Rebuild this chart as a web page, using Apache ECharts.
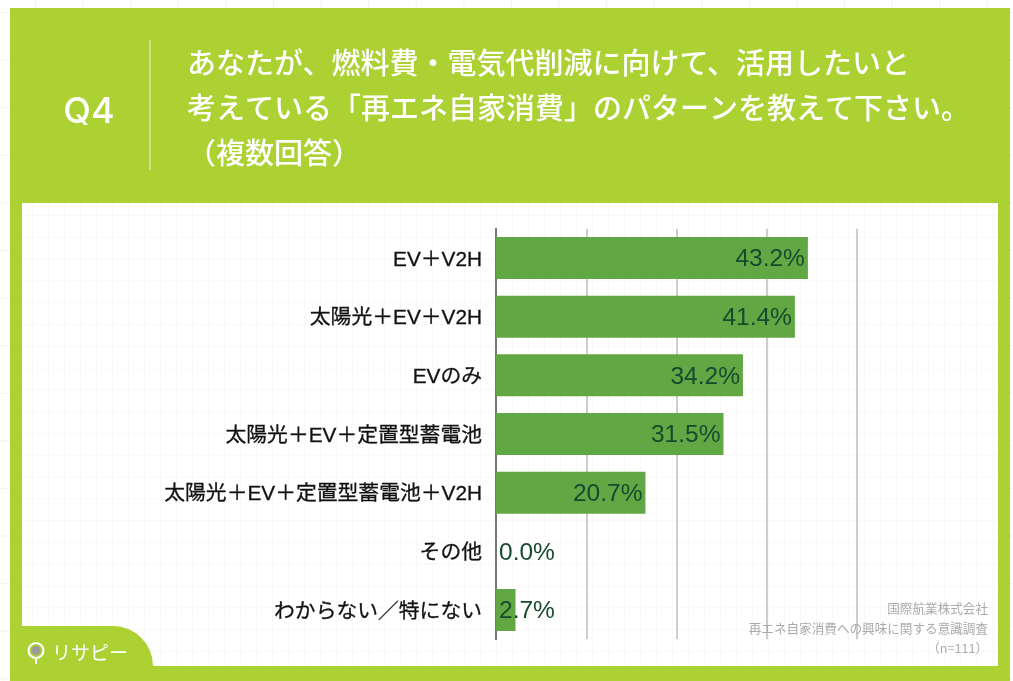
<!DOCTYPE html>
<html>
<head>
<meta charset="utf-8">
<style>
html,body{margin:0;padding:0;width:1013px;height:681px;overflow:hidden;background:#fff}
#outerlines{position:absolute;left:0;top:0;width:1013px;height:681px;
 background-image:linear-gradient(to right,#f3f3f3 1px,transparent 1px),linear-gradient(to bottom,#f3f3f3 1px,transparent 1px);
 background-size:47.6px 47.6px;background-position:35px 12px}
#green{position:absolute;left:10px;top:8px;width:1000px;height:673px;background:#abd132}
#panel{position:absolute;left:22px;top:203px;width:976px;height:463px;background-color:#fff;
 background-image:linear-gradient(to right,#f8f8f8 1px,transparent 1px),linear-gradient(to bottom,#f8f8f8 1px,transparent 1px);
 background-size:16px 21.8px;background-position:10px 12px}
#tab{position:absolute;left:10px;top:626px;width:143px;height:40px;background:#abd132;border-top-right-radius:40px}
#main{position:absolute;left:0;top:0;width:1013px;height:681px}
</style>
</head>
<body>
<div id="outerlines"></div>
<div id="green"></div>
<div id="panel"></div>
<div id="tab"></div>
<div id="main"></div>
<script src="https://cdn.jsdelivr.net/npm/echarts@6/dist/echarts.min.js"></script>
<script>
var categories=['EV＋V2H','太陽光＋EV＋V2H','EVのみ','太陽光＋EV＋定置型蓄電池','太陽光＋EV＋定置型蓄電池＋V2H','その他','わからない／特にない'];
var values=[43.2,41.4,34.2,31.5,20.7,0.0,2.7];
var xTicks=[0,12.5,25,37.5,50];
var jpFont='"Noto Sans CJK JP"';
var latinJp='"Liberation Sans","Noto Sans CJK JP"';

var barData=values.map(function(v){
	// 小さい値はラベルを軸の横に出す
	var small=v<5;
	return {
		value:v,
		label:{position:small?'insideLeft':'insideRight',distance:3}
	};
});

var chart=echarts.init(document.getElementById('main'));
chart.setOption({
	animation:false,
	backgroundColor:'transparent',
	title:[
		{text:'Q4',left:84,top:107,textAlign:'center',textVerticalAlign:'middle',
			textStyle:{color:'#fff',fontFamily:'Inter,"Liberation Sans"',fontSize:36,fontWeight:500}},
		{text:'あなたが、燃料費・電気代削減に向けて、活用したいと\n考えている「再エネ自家消費」のパターンを教えて下さい。\n（複数回答）',
			left:182,top:38,
			textStyle:{color:'#fff',fontFamily:latinJp,fontSize:29,fontWeight:500,lineHeight:45}},
		{text:'国際航業株式会社\n再エネ自家消費への興味に関する意識調査\n（n=111）',
			left:983,top:593,textAlign:'right',
			textStyle:{color:'#aaa',fontFamily:jpFont,fontSize:12.6,fontWeight:'normal',lineHeight:20,align:'right'}}
	],
	grid:{left:496,right:156,top:228.7,bottom:41.7,containLabel:false},
	xAxis:{
		type:'value',min:xTicks[0],max:xTicks[4],interval:xTicks[1],
		axisLine:{show:false},axisTick:{show:false},axisLabel:{show:false},
		splitLine:{show:true,lineStyle:{color:'#bdbdbd',width:1.5}}
	},
	yAxis:{
		type:'category',inverse:true,data:categories,
		axisLine:{show:true,lineStyle:{color:'#777',width:2}},
		axisTick:{show:false},
		// verticalAlign+lineHeightで文字を少し下げる
		axisLabel:{margin:14,color:'#111',fontFamily:latinJp,fontSize:20.8,fontWeight:'normal',
			textBorderColor:'#111',textBorderWidth:0.3,verticalAlign:'top',lineHeight:4}
	},
	series:[{
		type:'bar',data:barData,barWidth:42,
		itemStyle:{color:'#61a744'},
		label:{show:true,color:'#17492e',fontFamily:'"Liberation Sans"',fontSize:24.5,offset:[0,1.5],
			formatter:function(p){return p.value.toFixed(1)+'%';}}
	}],
	graphic:[
		{type:'line',shape:{x1:150,y1:40,x2:150,y2:170},style:{stroke:'#d9e99a',lineWidth:1.5}},
		// ロゴ
		{type:'circle',shape:{cx:36,cy:650.5,r:7.5},style:{fill:'none',stroke:'#fff',lineWidth:2.2}},
		{type:'circle',shape:{cx:36,cy:650.5,r:4.5},style:{fill:'#9a9a9a'}},
		{type:'line',shape:{x1:36,y1:658,x2:36,y2:664},style:{stroke:'#fff',lineWidth:2}},
		{type:'text',style:{text:'リサピー',x:52,y:653,verticalAlign:'middle',fill:'#fff',
			font:'19px "Noto Sans CJK JP"'}}
	]
});
</script>
</body>
</html>
